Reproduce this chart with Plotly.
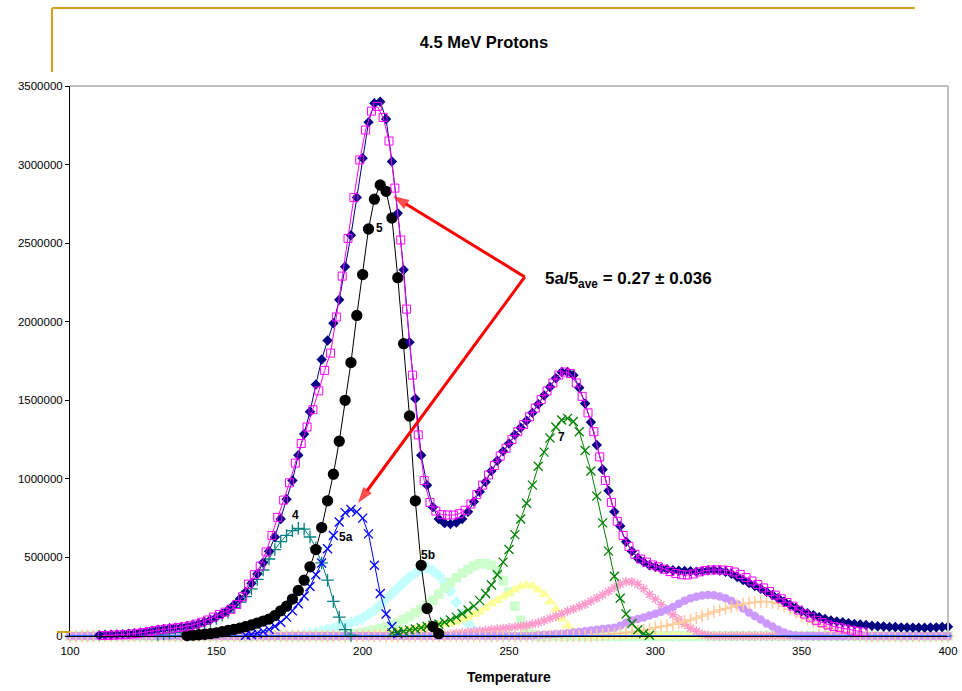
import plotly.graph_objects as go

# ---------------- data (values in thousands of counts) ----------------
T_STEP = 2
TEMP_MIN, TEMP_MAX = 100, 400

measured_start = 110
measured_k = [
    5, 6, 8, 10, 12, 15, 18, 22, 27, 33,
    40, 45, 49, 53, 57, 62, 70, 79, 90, 104,
    120, 140, 165, 198, 235, 280, 335, 395, 467, 540,
    630, 745, 870, 990, 1150, 1285, 1427, 1600, 1760, 1880,
    1990, 2140, 2350, 2550, 2790, 3040, 3270, 3390, 3400, 3290,
    3020, 2690, 2330, 1870, 1510, 1150, 960, 820, 745, 718,
    712, 722, 745, 790, 855, 918, 980, 1050, 1115, 1175,
    1225, 1280, 1325, 1370, 1420, 1475, 1530, 1585, 1640, 1680,
    1680, 1660, 1580, 1480, 1360, 1215, 1060, 925, 790, 700,
    600, 540, 495, 470, 450, 440, 430, 425, 418, 415,
    414, 412, 409, 413, 418, 420, 416, 409, 396, 375,
    356, 337, 318, 300, 281, 261, 240, 220, 198, 178,
    158, 145, 133, 120, 108, 99, 93, 88, 82, 77,
    73, 70, 65, 62, 60, 58, 57, 55, 54, 53,
    53, 53, 54, 55, 57, 59,
]

fit_start = 111
fit_k = [
    3, 4, 6, 8, 10, 13, 17, 22, 28, 34,
    40, 45, 49, 54, 58, 65, 76, 88, 102, 120,
    137, 152, 170, 200, 250, 330, 390, 445, 535, 640,
    755, 865, 975, 1100, 1225, 1330, 1440, 1560, 1690, 1800,
    2030, 2290, 2530, 2790, 3030, 3220, 3340, 3370, 3300, 3150,
    2850, 2520, 2080, 1660, 1280, 990, 850, 795, 772, 770,
    770, 778, 800, 840, 900, 960, 1025, 1085, 1145, 1195,
    1250, 1300, 1345, 1395, 1450, 1505, 1560, 1610, 1660, 1680,
    1670, 1610, 1525, 1420, 1300, 1140, 990, 850, 730, 640,
    570, 520, 490, 470, 452, 440, 425, 410, 398, 390,
    388, 395, 408, 416, 420, 421, 420, 416, 407, 392,
    372, 350, 328, 306, 283, 260, 237, 213, 190, 165,
    140, 120, 100, 85, 70, 60, 53, 45, 37, 30, 25,
]

peak4_start = 130
peak4_k = [10, 14, 18, 24, 30, 38, 48, 60, 74, 92, 112, 132, 152, 180, 215, 250,
           300, 360, 420, 490, 550, 600, 640, 670, 685, 680, 630, 560, 465, 355,
           220, 120, 40, 5]

peak5_start = 140
peak5_k = [3, 5, 8, 11, 15, 20, 27, 35, 42, 50, 60, 70, 82, 95, 108, 130, 160,
           190, 235, 290, 355, 440, 550, 690, 860, 1030, 1240, 1500, 1740, 2040,
           2300, 2590, 2780, 2870, 2830, 2660, 2280, 1860, 1400, 860, 450, 175,
           60, 15]

peak5a_start = 160
peak5a_k = [5, 10, 18, 28, 42, 62, 88, 120, 160, 205, 255, 315, 390, 465, 555,
            640, 725, 785, 805, 790, 750, 650, 450, 270, 140, 60, 15]

peak5b_start = 180
peak5b_k = [10, 15, 22, 30, 40, 50, 60, 72, 85, 98, 115, 140, 165, 195, 235, 270,
            305, 340, 375, 400, 425, 432, 415, 385, 340, 285, 215, 140, 80, 35, 8]

peak6_start = 196
peak6_k = [10, 15, 20, 28, 38, 48, 58, 70, 85, 105, 125, 150, 170, 195, 228, 265,
           305, 340, 370, 400, 425, 445, 460, 462, 450, 420, 350, 280, 190, 100,
           40, 8]

peak6b_start = 200
peak6b_k = [5, 8, 10, 13, 16, 20, 25, 30, 36, 43, 50, 57, 64, 70, 75, 80, 90, 103,
            120, 138, 155, 178, 205, 228, 250, 270, 295, 315, 325, 318, 295, 265,
            220, 170, 110, 65, 30, 10, 3]

peak7_start = 210
peak7_k = [20, 25, 30, 38, 45, 52, 60, 68, 76, 88, 102, 120, 142, 165, 190, 225,
           270, 325, 390, 470, 550, 645, 745, 845, 960, 1080, 1170, 1260, 1330,
           1375, 1385, 1365, 1300, 1180, 1050, 890, 720, 540, 380, 240, 140, 80,
           40, 15, 5]

peak8_start = 230
peak8_k = [12, 16, 20, 24, 28, 32, 36, 40, 44, 48, 52, 57, 62, 68, 76, 85, 98, 112,
           126, 142, 158, 172, 187, 202, 222, 242, 262, 285, 308, 330, 346, 345,
           330, 300, 265, 235, 200, 165, 135, 105, 75, 50, 30, 12, 3]

peak9_start = 260
peak9_k = [5, 8, 10, 12, 15, 18, 22, 26, 30, 35, 40, 44, 47, 52, 65, 85, 98, 108,
           118, 130, 142, 155, 168, 185, 205, 225, 240, 250, 258, 261, 260, 252,
           240, 222, 200, 175, 150, 128, 105, 80, 60, 40, 22, 10, 3]

peak10_start = 280
peak10_k = [5, 8, 11, 14, 18, 22, 26, 30, 36, 43, 52, 60, 66, 74, 84, 93, 102, 115,
            127, 140, 153, 165, 175, 185, 195, 204, 210, 215, 219, 218, 214, 205,
            190, 172, 150, 128, 108, 88, 72, 55, 45, 35, 25, 17, 10, 5]

peak_labels = ["4", "5", "5a", "5b", "7"]
label_temp = [177.2, 205.6, 194.3, 222.3, 268.1]
label_val_k = [770, 2596, 630, 515, 1266]

ratio_text = "5a/5<sub>ave</sub> = 0.27 ± 0.036"
ratio_temp, ratio_val_k = 261.6, 2266
arrow_tail = (255.4, 2285)
arrow_tips = [(210.35, 2800), (198.4, 846)]

Y_TICKS = [0, 500000, 1000000, 1500000, 2000000, 2500000, 3000000, 3500000]
X_TICKS = [100, 150, 200, 250, 300, 350, 400]

FONT = "Arial, 'Liberation Sans', sans-serif"
K = 1000


def xy(start, vals):
    xs = [start + T_STEP * i for i in range(len(vals))]
    ys = [v * K for v in vals]
    return xs, ys


def xy_padded(start, vals):
    full_x = list(range(TEMP_MIN, TEMP_MAX + 1, T_STEP))
    lookup = {start + T_STEP * i: v for i, v in enumerate(vals)}
    ys = [lookup.get(t, 0) * K for t in full_x]
    return full_x, ys


fig = go.Figure()

# light components (drawn along the whole range, producing the baseline band)
light = [
    (peak5b_start, peak5b_k, "diamond", "#C4FFFF", 8),
    (peak6_start, peak6_k, "square", "#CCFFCC", 8),
    (peak6b_start, peak6b_k, "triangle-up", "#FFFF99", 8),
    (peak8_start, peak8_k, "asterisk-open", "#FF99CC", 8),
    (peak9_start, peak9_k, "circle", "#CC99FF", 7),
    (peak10_start, peak10_k, "cross-thin-open", "#FFCC99", 9),
]
for st, vals, sym, col, sz in light:
    x, y = xy_padded(st, vals)
    fig.add_trace(go.Scatter(
        x=x, y=y, mode="markers", cliponaxis=False,
        marker=dict(symbol=sym, size=sz, color=col, line=dict(color=col, width=1.5)),
        showlegend=False))

# blue dashed baseline series
bx, by = xy_padded(TEMP_MIN, [0])
fig.add_trace(go.Scatter(
    x=bx, y=by, mode="markers", cliponaxis=False,
    marker=dict(symbol="line-ew-open", size=5, color="#3366FF",
                line=dict(color="#3366FF", width=2)),
    showlegend=False))

# components with connecting lines
lined = [
    (peak4_start, peak4_k, "cross-thin-open", "#008080", 9, 1),
    (peak5a_start, peak5a_k, "x-thin-open", "#0000FF", 9, 1),
    (peak7_start, peak7_k, "x-thin-open", "#008000", 9, 1),
    (peak5_start, peak5_k, "circle", "#000000", 10, 1),
]
for st, vals, sym, col, sz, lw in lined:
    x, y = xy(st, vals)
    fig.add_trace(go.Scatter(
        x=x, y=y, mode="lines+markers", cliponaxis=False,
        line=dict(color=col, width=lw),
        marker=dict(symbol=sym, size=sz, color=col, line=dict(color=col, width=1.3)),
        showlegend=False))

# measured glow curve
mx, my = xy(measured_start, measured_k)
fig.add_trace(go.Scatter(
    x=mx, y=my, mode="lines+markers", cliponaxis=False,
    line=dict(color="#000080", width=1),
    marker=dict(symbol="diamond", size=8, color="#000080"),
    showlegend=False))

# sum of fit
fx, fy = xy(fit_start, fit_k)
fig.add_trace(go.Scatter(
    x=fx, y=fy, mode="lines+markers", cliponaxis=False,
    line=dict(color="#FF00FF", width=1),
    marker=dict(symbol="square-open", size=8, color="#FF00FF",
                line=dict(color="#FF00FF", width=1)),
    showlegend=False))

# red pointer arrows (line from the common vertex to each tip, arrowhead at the tip)
for tip in arrow_tips:
    fig.add_trace(go.Scatter(
        x=[arrow_tail[0], tip[0]], y=[arrow_tail[1] * K, tip[1] * K],
        mode="lines+markers", cliponaxis=False, hoverinfo="skip",
        line=dict(color="#FF0000", width=3),
        marker=dict(symbol=["circle", "arrow"], size=[0, 17], color="#FF0000",
                    angleref="previous", line=dict(width=0)),
        showlegend=False))

annotations = []
for lab, t, v in zip(peak_labels, label_temp, label_val_k):
    annotations.append(dict(x=t, y=v * K, xref="x", yref="y", text="<b>%s</b>" % lab,
                            showarrow=False, font=dict(family=FONT, size=12, color="#000000")))
annotations.append(dict(x=ratio_temp, y=ratio_val_k * K, xref="x", yref="y",
                        text="<b>%s</b>" % ratio_text, xanchor="left", yanchor="middle",
                        showarrow=False, font=dict(family=FONT, size=17, color="#000000")))
annotations.append(dict(x=0.5, y=-0.075, xref="paper", yref="paper", text="<b>Temperature</b>",
                        showarrow=False, yanchor="middle",
                        font=dict(family=FONT, size=14, color="#000000")))

gold = "#D4A017"
shapes = [
    dict(type="line", xref="paper", yref="paper", x0=-0.0205, x1=0.9624, y0=1.1418, y1=1.1418,
         line=dict(color=gold, width=2)),
    dict(type="line", xref="paper", yref="paper", x0=-0.0205, x1=-0.0205, y0=1.1418, y1=1.0255,
         line=dict(color=gold, width=2)),
    dict(type="line", xref="paper", yref="paper", x0=-0.0148, x1=0.0, y0=0.0073, y1=0.0073,
         line=dict(color=gold, width=2)),
    dict(type="line", xref="paper", yref="paper", x0=0, x1=1, y0=1, y1=1,
         line=dict(color="#C0C0C0", width=2)),
    dict(type="line", xref="paper", yref="paper", x0=1, x1=1, y0=0, y1=1,
         line=dict(color="#C0C0C0", width=2)),
]

fig.update_layout(
    width=962, height=691,
    margin=dict(l=70, r=14, t=86, b=55),
    paper_bgcolor="#FFFFFF", plot_bgcolor="#FFFFFF",
    title=dict(text="<b>4.5 MeV Protons</b>", x=0.503, y=0.939, xanchor="center",
               yanchor="middle", font=dict(family=FONT, size=16.5, color="#000000")),
    annotations=annotations, shapes=shapes,
    font=dict(family=FONT, color="#000000"),
)
fig.update_xaxes(range=[TEMP_MIN, TEMP_MAX], tickvals=X_TICKS, showgrid=False, zeroline=False,
                 showline=True, linecolor="#000000", linewidth=1, ticks="", automargin=False,
                 ticklabelstandoff=4,
                 tickfont=dict(family=FONT, size=11.5, color="#000000"))
fig.update_yaxes(range=[0, 3500000], tickvals=Y_TICKS, tickformat="d", showgrid=False,
                 zeroline=False, showline=True, linecolor="#000000", linewidth=1,
                 ticks="outside", ticklen=4, tickcolor="#000000", automargin=False,
                 tickfont=dict(family=FONT, size=11.5, color="#000000"))

fig.write_html("out.html", config={"displayModeBar": False},
               post_script="document.body.style.margin='0px';document.body.style.padding='0px';")
